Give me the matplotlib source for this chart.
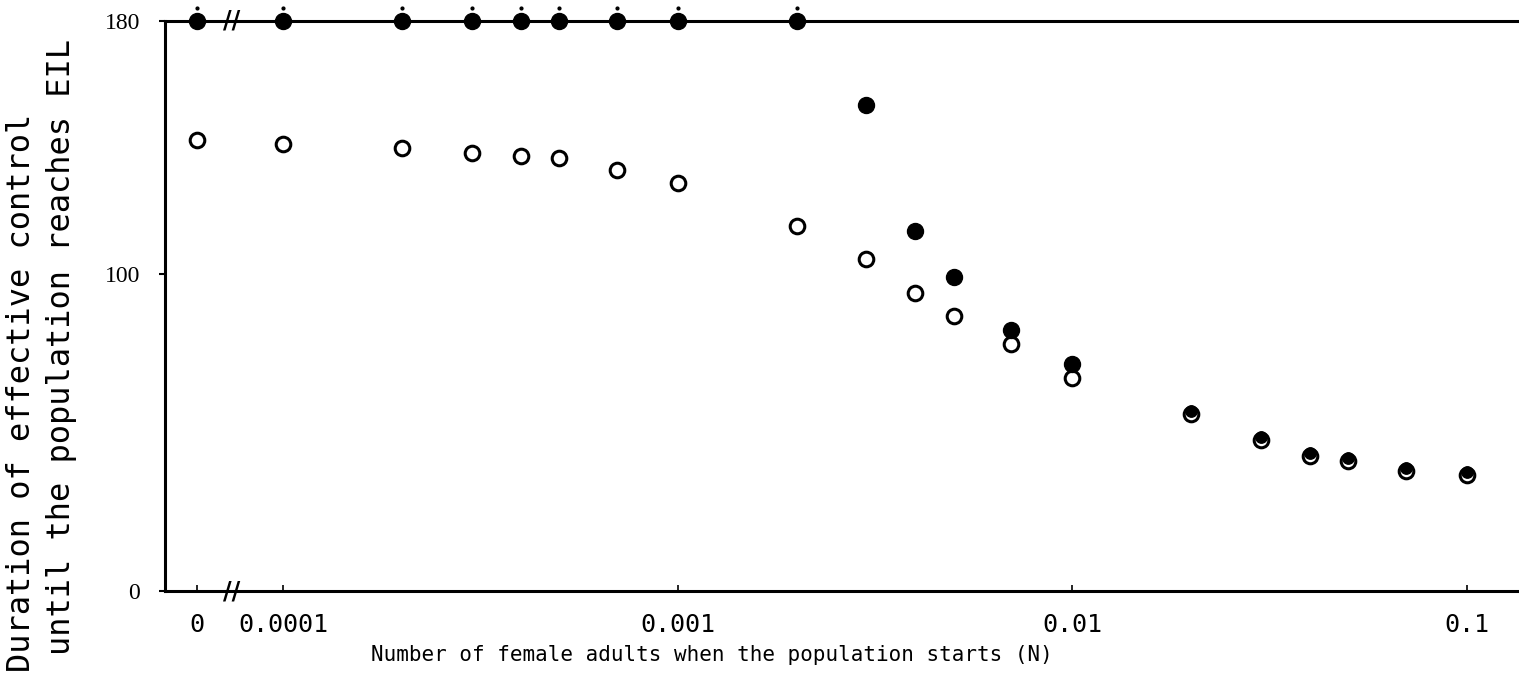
import numpy as np
import matplotlib.pyplot as plt
from matplotlib import transforms

# starting number of female adults (0 drawn left of the axis break)
n_start = [0, 0.0001, 0.0002, 0.0003, 0.0004, 0.0005, 0.0007, 0.001, 0.002,
           0.003, 0.004, 0.005, 0.007, 0.01, 0.02, 0.03, 0.04, 0.05, 0.07, 0.1]

# open circles
dur_open = [142.4, 141.0, 140.0, 138.3, 137.4, 136.7, 133.0, 128.8, 115.3,
            104.8, 94.1, 86.8, 78.0, 67.3, 55.9, 47.7, 42.6, 41.0, 37.9, 36.6]

# filled circles (180 = still under control at the end of the run)
dur_filled = [180, 180, 180, 180, 180, 180, 180, 180, 180,
              153.5, 113.7, 99.2, 82.4, 71.7, 56.9, 48.7, 43.6, 42.0, 38.9, 37.6]

xtick_vals = [0, 0.0001, 0.001, 0.01, 0.1]
xtick_labels = ['0', '0.0001', '0.001', '0.01', '0.1']
ytick_vals = [0, 100, 180]

ZERO_POS = -4.22   # log10 position used for N = 0
BREAK_AT = 0.000074


def fwd(x):
    x = np.asarray(x, dtype=float)
    return np.where(x <= 0, ZERO_POS, np.log10(np.clip(x, 1e-12, None)))


def inv(y):
    return 10.0 ** np.asarray(y, dtype=float)


mono = 'DejaVu Sans Mono'
plt.rcParams['font.family'] = mono

fig = plt.figure(figsize=(15.19, 6.95), dpi=100)
ax = fig.add_axes([0.1086, 0.1496, 0.8914, 0.8202])
ax.set_xscale('function', functions=(fwd, inv))

# where both runs nearly coincide the filled mark sits inside the open one
n_sep, f_sep, n_ovl, f_ovl = [], [], [], []
for n, f, o in zip(n_start, dur_filled, dur_open):
    if abs(f - o) < 2:
        n_ovl.append(n)
        f_ovl.append(f)
    else:
        n_sep.append(n)
        f_sep.append(f)

ax.plot(n_start, dur_open, 'o', mfc='white', mec='black', mew=2.2, ms=10.5,
        clip_on=False, zorder=2)
ax.plot(n_sep, f_sep, 'o', color='black', ms=11.5, clip_on=False, zorder=3)
ax.plot(n_ovl, f_ovl, 'o', color='black', ms=8.2, clip_on=False, zorder=3)

# small marks above the points that stay at the 180-day limit
top_n = [n for n, d in zip(n_start, dur_filled) if d >= 180]
top_d = [d for d in dur_filled if d >= 180]
up = ax.transData + transforms.ScaledTranslation(0, 9.5 / 72, fig.dpi_scale_trans)
ax.plot(top_n, top_d, '.', color='black', ms=4, transform=up, clip_on=False, zorder=3)

ax.spines['right'].set_visible(False)
for side in ['left', 'top', 'bottom']:
    ax.spines[side].set_linewidth(2.2)

ax.set_xticks(xtick_vals)
ax.set_xticklabels(xtick_labels, fontsize=18)
ax.xaxis.set_minor_locator(plt.NullLocator())
ax.tick_params(axis='x', direction='in', length=4, width=1.2, pad=16)
ax.set_yticks(ytick_vals)
ax.set_yticklabels([str(v) for v in ytick_vals], fontsize=17,
                   family='Liberation Serif')
ax.tick_params(axis='y', direction='out', length=4, width=1.5, pad=14)

# limits after the ticks, so the tick at 0 does not widen the view
ax.set_xlim(inv(-4.30), inv(-0.868))
ax.set_ylim(0, 180)

# axis break marks on top and bottom lines
brk = transforms.blended_transform_factory(ax.transData, ax.transAxes)
for yy in (0, 1):
    ax.text(BREAK_AT, yy, '//', transform=brk, ha='center', va='center',
            fontsize=17, fontweight='bold', family='DejaVu Sans', clip_on=False)

ax.set_xlabel('Number of female adults when the population starts (N)',
              fontsize=15)
ax.xaxis.set_label_coords(0.404, -0.095)

fig.text(22 / 1519, 1 - 672 / 695, 'Duration of effective control',
         rotation=90, ha='center', va='bottom', fontsize=23)
fig.text(62 / 1519, 1 - 655 / 695, 'until the population reaches EIL',
         rotation=90, ha='center', va='bottom', fontsize=23)

fig.savefig('out.png', dpi=100)
